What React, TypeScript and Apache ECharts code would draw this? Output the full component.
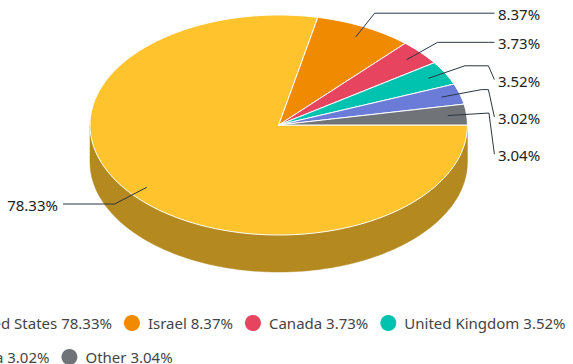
import React, { useEffect, useRef } from 'react';
import * as echarts from 'echarts';

const countries = ['United States', 'Israel', 'Canada', 'United Kingdom', 'China', 'Other'];
const shares = [78.33, 8.37, 3.73, 3.52, 3.02, 3.04];
const colors = ['#FEC32D', '#F08A00', '#E6445F', '#00C3AF', '#6B7CD8', '#707479'];

const W = 573;
const H = 364;
const CX = 278.7;
const CY = 125;
const RX = 188.7;
const RY = 110;
const DEPTH = 37;
const FONT = 'Noto Sans';

function darken(hex: string, f: number): string {
  const n = parseInt(hex.slice(1), 16);
  const r = Math.round(((n >> 16) & 255) * f);
  const g = Math.round(((n >> 8) & 255) * f);
  const b = Math.round((n & 255) * f);
  return `rgb(${r},${g},${b})`;
}

const total = shares.reduce((s, v) => s + v, 0);
const slices: { a0: number; a1: number; mid: number }[] = [];
{
  let acc = 0;
  shares.forEach((v) => {
    const a0 = (acc / total) * Math.PI * 2;
    acc += v;
    const a1 = (acc / total) * Math.PI * 2;
    slices.push({ a0, a1, mid: (a0 + a1) / 2 });
  });
}

type Lbl = { right: boolean; anchor: number[]; bend: number[]; y: number };
const labels: Lbl[] = slices.map((s) => {
  const c = Math.cos(s.mid);
  const sn = Math.sin(s.mid);
  return {
    right: c >= 0,
    anchor: [CX + 0.9 * RX * c, CY + 0.9 * RY * sn],
    bend: [CX + (RX + 22.5) * c, CY + (RY + 15.5) * sn],
    y: CY + (RY + 15.5) * sn,
  };
});
[true, false].forEach((side) => {
  const list = labels.filter((l) => l.right === side).sort((a, b) => a.y - b.y);
  for (let k = 1; k < list.length; k++) {
    if (list[k].y - list[k - 1].y < 24) list[k].y = list[k - 1].y + 37.3;
  }
});

function arc(a0: number, a1: number, dy: number, steps: number): number[][] {
  const pts: number[][] = [];
  for (let k = 0; k <= steps; k++) {
    const a = a0 + ((a1 - a0) * k) / steps;
    pts.push([CX + RX * Math.cos(a), CY + RY * Math.sin(a) + dy]);
  }
  return pts;
}

function makeRender(i: number) {
  return (_params: any, api: any) => {
    const s = slices[i];
    const color = colors[i];
    const children: any[] = [];
    const f0 = Math.max(s.a0, 0);
    const f1 = Math.min(s.a1, Math.PI);
    if (f1 > f0) {
      const n = Math.max(8, Math.ceil((f1 - f0) * 60));
      const top = arc(f0, f1, 0, n);
      const bot = arc(f1, f0, DEPTH, n);
      children.push({
        type: 'polygon',
        shape: { points: top.concat(bot) },
        style: { fill: darken(color, 0.705), stroke: darken(color, 0.705), lineWidth: 0.5 },
      });
    }
    const n2 = Math.max(8, Math.ceil((s.a1 - s.a0) * 60));
    const topPts = [[CX, CY]].concat(arc(s.a0, s.a1, 0, n2));
    children.push({
      type: 'polygon',
      shape: { points: topPts },
      style: { fill: color, stroke: '#ffffff', lineWidth: 1, lineJoin: 'round' },
    });
    const l = labels[i];
    const endX = l.right ? CX + RX + 27 : CX - RX - 27;
    const kneeX = l.right ? endX - 6 : endX + 6;
    const pts: number[][] = [l.anchor, l.bend];
    if (l.right ? l.bend[0] < kneeX : l.bend[0] > kneeX) pts.push([kneeX, l.bend[1]]);
    pts.push([endX, l.y]);
    children.push({
      type: 'polyline',
      shape: { points: pts },
      style: { stroke: '#2b3640', lineWidth: 1, fill: null },
      z2: 50,
    });
    children.push({
      type: 'text',
      style: {
        text: Number(api.value(0)).toFixed(2) + '%',
        x: l.right ? endX + 3.5 : endX - 5,
        y: l.y + 1,
        fill: '#222222',
        fontSize: 15,
        fontFamily: FONT,
        align: l.right ? 'left' : 'right',
        verticalAlign: 'middle',
      },
      z2: 60,
    });
    return { type: 'group', children };
  };
}

export default function App() {
  const ref = useRef<HTMLDivElement>(null);
  useEffect(() => {
    if (!ref.current) return;
    const chart = echarts.init(ref.current, undefined, { renderer: 'svg' });
    chart.setOption({
      animation: false,
      backgroundColor: '#ffffff',
      legend: {
        data: countries,
        left: -61,
        top: 312,
        width: 645,
        padding: 0,
        itemGap: 12,
        itemWidth: 22,
        itemHeight: 16,
        icon: 'circle',
        selectedMode: false,
        formatter: (name: string) => `${name} ${shares[countries.indexOf(name)].toFixed(2)}%`,
        textStyle: { color: '#444444', fontSize: 15, fontFamily: FONT, lineHeight: 22 },
      },
      series: countries.map((name, i) => ({
        type: 'custom',
        name,
        coordinateSystem: 'none',
        itemStyle: { color: colors[i] },
        data: [[shares[i]]],
        renderItem: makeRender(i),
      })),
    });
    return () => chart.dispose();
  }, []);
  return (
    <div
      ref={ref}
      style={{ position: 'fixed', left: 0, top: 0, width: W, height: H, background: '#fff' }}
    />
  );
}
